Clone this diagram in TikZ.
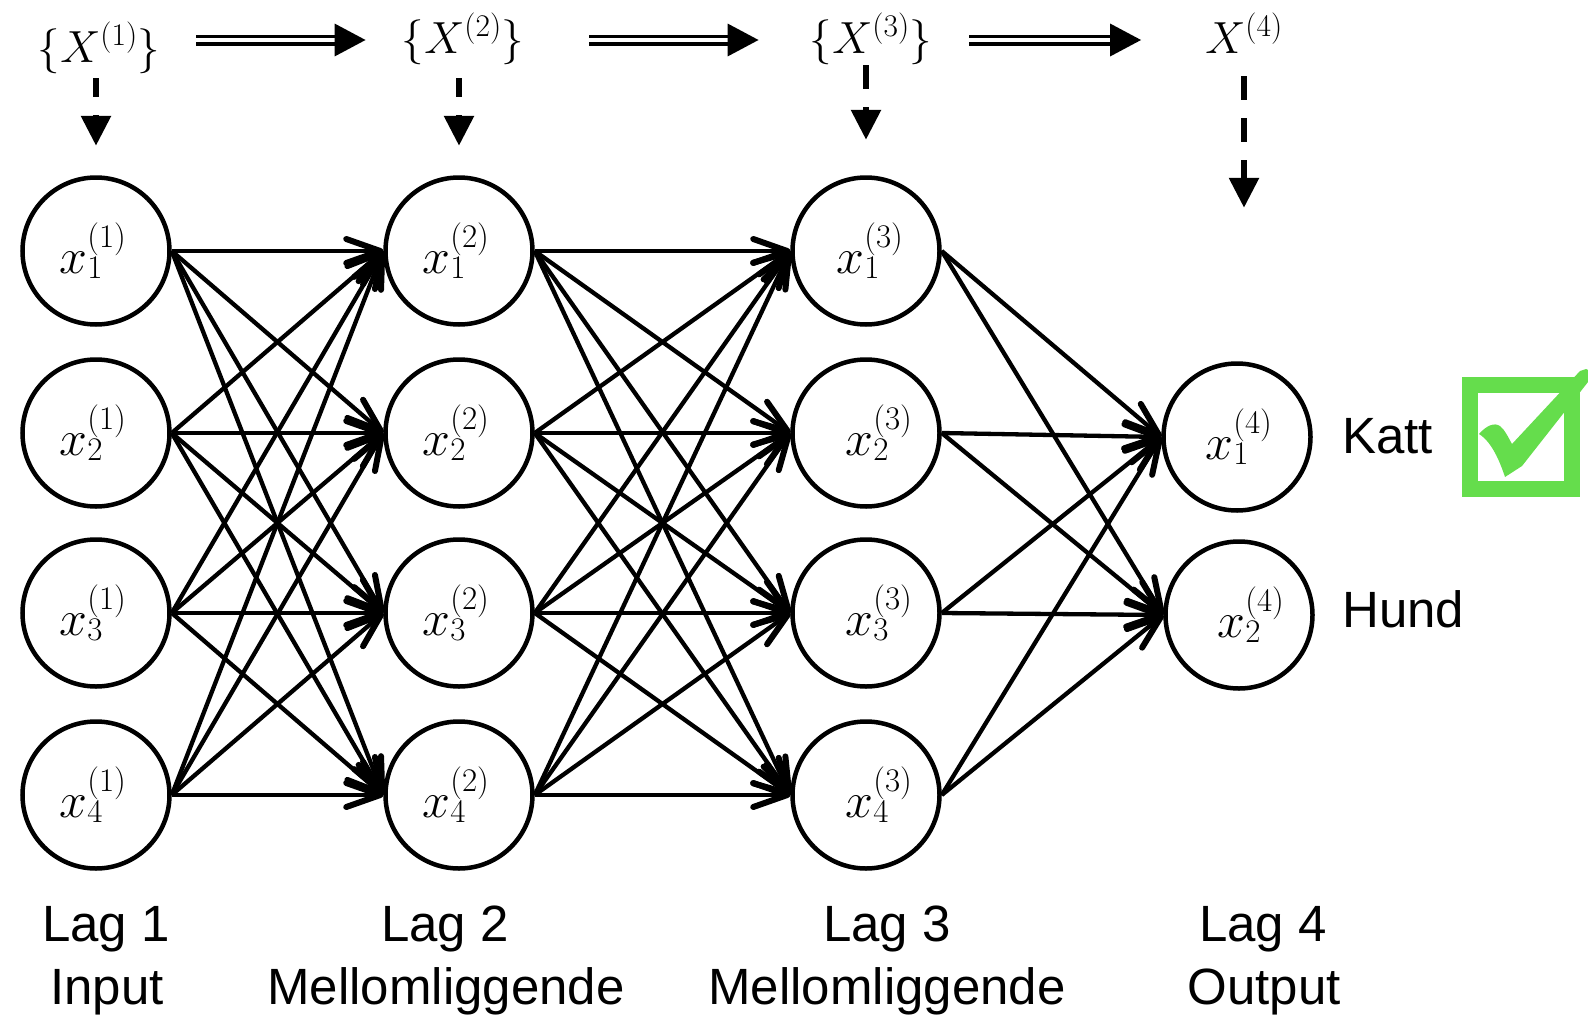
\RequirePackage{fix-cm}
\documentclass[tikz,border=0pt]{standalone}
\usepackage[no-math]{fontspec}
\setmainfont{Liberation Sans}
\usetikzlibrary{arrows.meta}
\definecolor{tickgreen}{RGB}{101,221,76}
\DeclareMathSizes{50}{50}{33}{25}
\begin{document}
\begin{tikzpicture}[x=1pt,y=-1pt,
  neuron/.style={circle, draw, line width=4.5pt, fill=white, minimum size=147pt, inner sep=0pt},
  nlbl/.style={font=\fontsize{50}{60}\selectfont, inner sep=0pt},
  toplbl/.style={font=\fontsize{45}{54}\selectfont, inner sep=0pt, anchor=base},
  txt/.style={font=\fontsize{51}{62}\selectfont, inner sep=0pt},
  edge/.style={line width=4.3pt, -{Straight Barb[length=34pt,width=24pt,line width=6pt,round]}},
  dbl/.style={double, double distance=4pt, line width=3.5pt, -{Triangle[length=31pt,width=32pt]}},
  dsharrow/.style={line width=6pt, -{Triangle[length=30pt,width=29pt]}}]
\useasboundingbox (0,0) rectangle (1588,1017);

% layer 1
\node[neuron, label={[nlbl,xshift=-3pt]center:$x_1^{(1)}$}] (a1) at (96,251) {};
\node[neuron, label={[nlbl,xshift=-3pt]center:$x_2^{(1)}$}] (a2) at (96,433) {};
\node[neuron, label={[nlbl,xshift=-3pt]center:$x_3^{(1)}$}] (a3) at (96,613) {};
\node[neuron, label={[nlbl,xshift=-3pt]center:$x_4^{(1)}$}] (a4) at (96,795) {};
% layer 2
\node[neuron, label={[nlbl,xshift=-3pt]center:$x_1^{(2)}$}] (b1) at (459,251) {};
\node[neuron, label={[nlbl,xshift=-3pt]center:$x_2^{(2)}$}] (b2) at (459,433) {};
\node[neuron, label={[nlbl,xshift=-3pt]center:$x_3^{(2)}$}] (b3) at (459,613) {};
\node[neuron, label={[nlbl,xshift=-3pt]center:$x_4^{(2)}$}] (b4) at (459,795) {};
% layer 3
\node[neuron, label={[nlbl,xshift=4pt]center:$x_1^{(3)}$}] (c1) at (866,251) {};
\node[neuron, label={[nlbl,xshift=13pt]center:$x_2^{(3)}$}] (c2) at (866,433) {};
\node[neuron, label={[nlbl,xshift=13pt]center:$x_3^{(3)}$}] (c3) at (866,613) {};
\node[neuron, label={[nlbl,xshift=13pt]center:$x_4^{(3)}$}] (c4) at (866,795) {};
% layer 4
\node[neuron, label={[nlbl,xshift=2pt]center:$x_1^{(4)}$}] (d1) at (1237,437) {};
\node[neuron, label={[nlbl,xshift=12pt]center:$x_2^{(4)}$}] (d2) at (1239,615) {};

% fully connected edges
\foreach \s in {1,...,4}{
  \foreach \t in {1,...,4}{
    \draw[edge] (a\s.east) -- (b\t.west);
    \draw[edge] (b\s.east) -- (c\t.west);
  }
  \foreach \t in {1,2}{
    \draw[edge] (c\s.east) -- (d\t.west);
  }
}

% layer sets on top
\node[toplbl] (T1) at (99,62) {$\{X^{(1)}\}$};
\node[toplbl] (T2) at (463,53) {$\{X^{(2)}\}$};
\node[toplbl] (T3) at (871,53) {$\{X^{(3)}\}$};
\node[toplbl] (T4) at (1244,53) {$X^{(4)}$};

\draw[dbl, shorten <=36pt, shorten >=36pt] ([yshift=22pt]T1.base east) -- ([yshift=22pt]T1.base east -| T2.west);
\draw[dbl, shorten <=65pt, shorten >=51pt] ([yshift=13pt]T2.base east) -- ([yshift=13pt]T2.base east -| T3.west);
\draw[dbl, shorten <=37pt, shorten >=64pt] ([yshift=13pt]T3.base east) -- ([yshift=13pt]T3.base east -| T4.west);

\draw[dsharrow, dash pattern=on 19pt off 18pt on 100pt, shorten >=29.5pt] ([yshift=-16pt]T1.base -| a1.north) -- (a1.north);
\draw[dsharrow, dash pattern=on 19pt off 18pt on 100pt, shorten >=29.5pt] ([yshift=-25pt]T2.base -| b1.north) -- (b1.north);
\draw[dsharrow, dash pattern=on 24pt off 18pt on 100pt, shorten >=35.5pt] ([yshift=-12pt]T3.base -| c1.north) -- (c1.north);
\draw[dsharrow, dash pattern=on 24pt off 18pt on 24pt off 18pt on 100pt, shorten >=153.5pt] ([yshift=-23pt]T4.base) -- (T4.base |- d1.north);

% output classes
\node[txt, anchor=base west] (katt) at (1342,453) {Katt};
\node[txt, anchor=base west] (hund) at (1342,627) {Hund};

% check box
\draw[tickgreen, line width=16pt] (1470,385) rectangle (1572,489);
\fill[tickgreen] (1479,434) .. controls (1486,426) and (1494,422) .. (1500,426)
  .. controls (1505,430) and (1508,437) .. (1512,444) -- (1580,371) -- (1586,369)
  -- (1588,370) -- (1588,382) -- (1522,466) -- (1505,477)
  .. controls (1500,462) and (1492,442) .. (1479,434) -- cycle;

% layer captions
\node[txt, anchor=base] (lag1) at (106,941) {Lag 1};
\node[txt, anchor=base] (rol1) at (107,1004) {Input};
\node[txt, anchor=base] (lag2) at (445,941) {Lag 2};
\node[txt, anchor=base] (rol2) at (446,1004) {Mellomliggende};
\node[txt, anchor=base] (lag3) at (887,941) {Lag 3};
\node[txt, anchor=base] (rol3) at (887,1004) {Mellomliggende};
\node[txt, anchor=base] (lag4) at (1263,941) {Lag 4};
\node[txt, anchor=base] (rol4) at (1264,1004) {Output};
\end{tikzpicture}
\end{document}
